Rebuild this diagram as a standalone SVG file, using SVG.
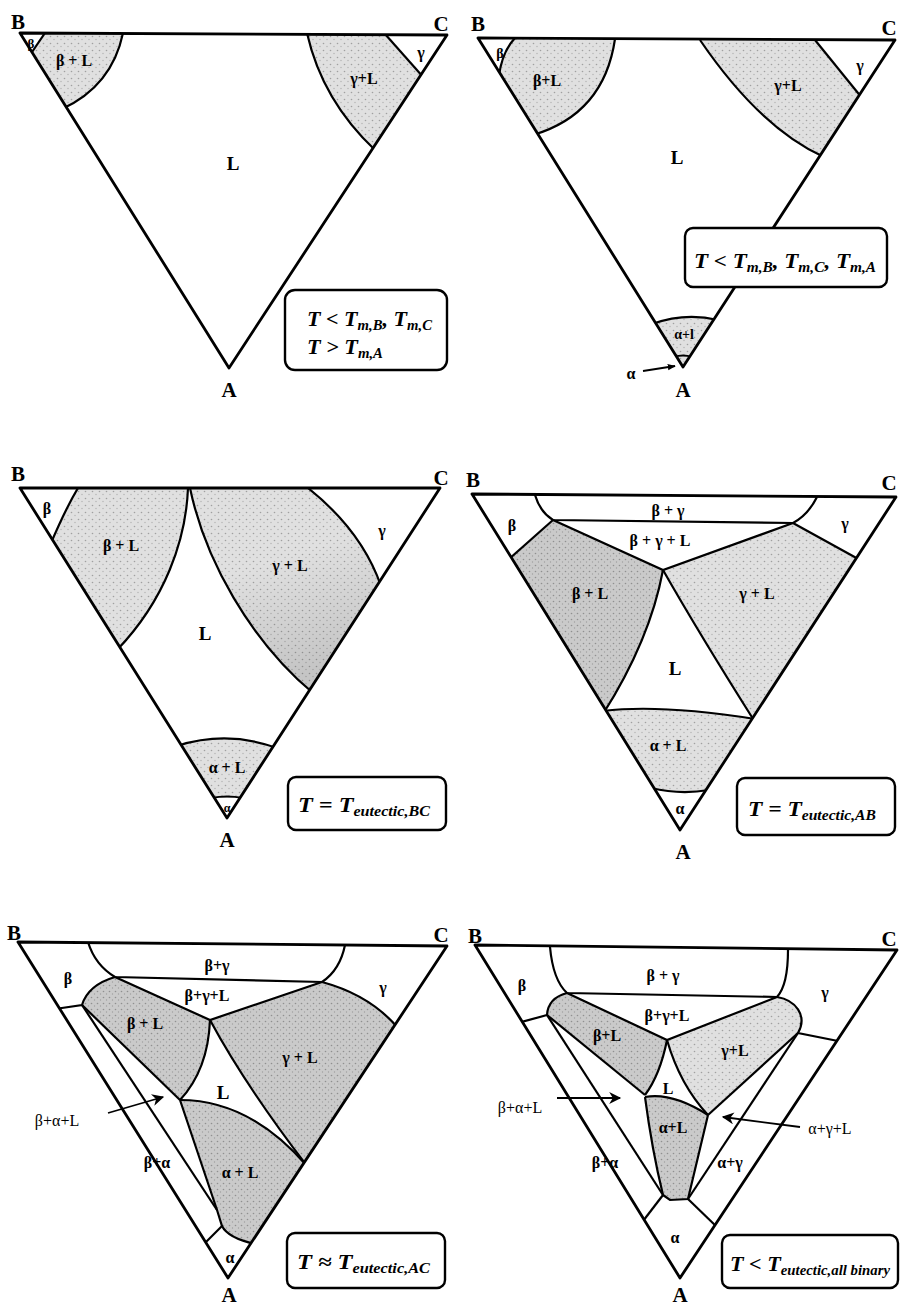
<svg xmlns="http://www.w3.org/2000/svg" width="900" height="1308" viewBox="0 0 900 1308">
<defs>
<pattern id="stip" width="7" height="7" patternUnits="userSpaceOnUse">
<rect width="7" height="7" fill="#e0e0e0"/>
<circle cx="1.5" cy="1.5" r="0.8" fill="#a0a0a0"/>
<circle cx="5" cy="4.5" r="0.7" fill="#b0b0b0"/>
</pattern>
<pattern id="stip2" width="6" height="6" patternUnits="userSpaceOnUse">
<rect width="6" height="6" fill="#cacaca"/>
<circle cx="1.5" cy="1.5" r="0.8" fill="#909090"/>
<circle cx="4.5" cy="4" r="0.7" fill="#a0a0a0"/>
</pattern>
<linearGradient id="g3" x1="0" y1="0" x2="0.3" y2="1">
<stop offset="0.45" stop-color="#000" stop-opacity="0"/>
<stop offset="1" stop-color="#000" stop-opacity="0.12"/>
</linearGradient>
<clipPath id="c1"><path d="M20,33 L447,35 L229,368 Z"/></clipPath>
<clipPath id="c2"><path d="M478,38 L895,40 L683,367 Z"/></clipPath>
<clipPath id="c3"><path d="M20,488 L440,488 L227,818 Z"/></clipPath>
<clipPath id="c4"><path d="M472,494 L896,497 L680,830 Z"/></clipPath>
<clipPath id="c5"><path d="M18,942 L447,946 L228,1278 Z"/></clipPath>
<clipPath id="c6"><path d="M475,945 L897,950 L680,1278 Z"/></clipPath>
<marker id="ah" viewBox="0 0 10 10" refX="9" refY="5" markerWidth="8" markerHeight="8" orient="auto" markerUnits="userSpaceOnUse">
<path d="M0,1 L10,5 L0,9 Z" fill="#000"/>
</marker>
<marker id="ah2" viewBox="0 0 10 10" refX="9" refY="5" markerWidth="15" markerHeight="12" orient="auto" markerUnits="userSpaceOnUse">
<path d="M0,0 L10,5 L0,10 L3,5 Z" fill="#000"/>
</marker>
</defs>
<style>
.tri{fill:none;stroke:#000;stroke-width:2.8;stroke-linejoin:round}
.ln{fill:none;stroke:#000;stroke-width:2.2}
.sh{fill:url(#stip);stroke:none}
.sh2{fill:url(#stip2);stroke:none}
.box{fill:#fff;stroke:#000;stroke-width:2.4}
.lbl{font-family:"Liberation Serif",serif;font-weight:bold;font-size:16px;text-anchor:middle;fill:#000}
.big{font-size:19px}
.vtx{font-family:"Liberation Serif",serif;font-weight:bold;font-size:21px;text-anchor:middle;fill:#000}
.bt{font-family:"Liberation Serif",serif;font-weight:bold;font-style:italic;font-size:21px;fill:#000}
.sb{font-size:14px}
.arr{fill:none;stroke:#000;stroke-width:1.8}
</style>
<rect width="900" height="1308" fill="#fff"/>

<!-- Panel 1 -->
<g id="panel1">
<g clip-path="url(#c1)">
<path class="sh" d="M47,33 L123,33 Q112,86 66,107 L32,52 Z"/>
<path class="sh" d="M307,33 L385,34 L421,75 L372,148 Q322,100 307,33 Z"/>
<path class="ln" d="M47,30 L30,55"/>
<path class="ln" d="M123,33 Q112,86 62,109"/>
<path class="ln" d="M307,33 Q322,100 375,150"/>
<path class="ln" d="M385,34 L424,78"/>
</g>
<path class="tri" d="M20,33 L447,35 L229,368 Z"/>
<text class="vtx" x="18" y="29">B</text>
<text class="vtx" x="441" y="31">C</text>
<text class="vtx" x="229" y="397">A</text>
<text class="lbl" x="31" y="48" style="font-size:13px">β</text>
<text class="lbl" x="74" y="66">β + L</text>
<text class="lbl" x="364" y="84">γ+L</text>
<text class="lbl" x="421" y="58">γ</text>
<text class="lbl big" x="233" y="170">L</text>
<rect class="box" x="285" y="290" width="162" height="80" rx="10"/>
<text class="bt" x="307" y="326" textLength="125" lengthAdjust="spacingAndGlyphs">T &lt; T<tspan class="sb" dy="4">m,B</tspan><tspan dy="-4">, T</tspan><tspan class="sb" dy="4">m,C</tspan></text>
<text class="bt" x="307" y="354" textLength="76" lengthAdjust="spacingAndGlyphs">T &gt; T<tspan class="sb" dy="4">m,A</tspan></text>
</g>

<!-- Panel 2 -->
<g id="panel2">
<g clip-path="url(#c2)">
<path class="sh" d="M515,38 L615,39 Q604,114 537,133 L500,73 Q502,52 515,38 Z"/>
<path class="sh" d="M700,40 L815,40 L859,95 L820,155 Q760,128 700,40 Z"/>
<path class="sh" d="M656,323 Q685,312 714,320 L683,367 Z"/>
<path class="ln" d="M515,38 Q502,52 499,76"/>
<path class="ln" d="M615,39 Q604,114 533,135"/>
<path class="ln" d="M700,40 Q760,128 824,157"/>
<path class="ln" d="M815,40 L862,98"/>
<path class="ln" d="M652,324 Q685,312 718,320"/>
<path class="ln" d="M674,357 Q683,354 692,357"/>
</g>
<path class="tri" d="M478,38 L895,40 L683,367 Z"/>
<text class="vtx" x="478" y="31">B</text>
<text class="vtx" x="889" y="35">C</text>
<text class="vtx" x="683" y="397">A</text>
<text class="lbl" x="500" y="58" style="font-size:14px">β</text>
<text class="lbl" x="547" y="86">β+L</text>
<text class="lbl" x="788" y="91">γ+L</text>
<text class="lbl" x="860" y="71">γ</text>
<text class="lbl big" x="677" y="164">L</text>
<text class="lbl" x="684" y="339" style="font-size:14px">α+l</text>
<text class="lbl" x="631" y="379">α</text>
<rect class="box" x="685" y="228" width="202" height="59" rx="8"/>
<text class="bt" x="694" y="268" textLength="182" lengthAdjust="spacingAndGlyphs">T &lt; T<tspan class="sb" dy="4">m,B</tspan><tspan dy="-4">, T</tspan><tspan class="sb" dy="4">m,C</tspan><tspan dy="-4">, T</tspan><tspan class="sb" dy="4">m,A</tspan></text>
</g>

<!-- Panel 3 -->
<g id="panel3">
<g clip-path="url(#c3)">
<path class="sh" d="M78,488 L188,488 C186,540 165,600 120,647 L53,540 Q66,508 78,488 Z"/>
<path class="sh" d="M190,488 L308,488 Q362,531 379,582 L310,690 C250,640 205,560 190,488 Z"/>
<path d="M190,488 L308,488 Q362,531 379,582 L310,690 C250,640 205,560 190,488 Z" fill="url(#g3)"/>
<path class="sh" d="M181,745 Q227,730 273,747 L240,798 L214,798 Z"/>
<path class="ln" d="M78,488 Q66,508 51,543"/>
<path class="ln" d="M188,488 C186,540 165,600 117,650"/>
<path class="ln" d="M190,488 C205,560 250,640 313,693"/>
<path class="ln" d="M308,488 Q362,531 381,586"/>
<path class="ln" d="M177,746 Q227,730 277,748"/>
<path class="ln" d="M211,798 Q227,795 243,798"/>
</g>
<path class="tri" d="M20,488 L440,488 L227,818 Z"/>
<text class="vtx" x="18" y="481">B</text>
<text class="vtx" x="441" y="485">C</text>
<text class="vtx" x="227" y="847">A</text>
<text class="lbl" x="47" y="514">β</text>
<text class="lbl" x="121" y="551">β + L</text>
<text class="lbl" x="290" y="571">γ + L</text>
<text class="lbl" x="382" y="536">γ</text>
<text class="lbl big" x="205" y="640">L</text>
<text class="lbl" x="227" y="773">α + L</text>
<text class="lbl" x="227" y="812" style="font-size:12px">α</text>
<rect class="box" x="288" y="777" width="158" height="53" rx="8"/>
<text class="bt" x="298" y="812" textLength="132" lengthAdjust="spacingAndGlyphs">T = T<tspan class="sb" dy="4">eutectic,BC</tspan></text>
</g>

<!-- Panel 4 -->
<g id="panel4">
<g clip-path="url(#c4)">
<path class="sh2" d="M511,557 L553,520 L663,570 Q650,640 606,710 Z"/>
<path class="sh" d="M663,570 L793,523 L856,558 L752,718 Q700,635 663,570 Z"/>
<path class="sh" d="M606,710 Q660,704 752,718 L706,790 Q680,795 654,788 Z"/>
<path class="ln" d="M535,495 Q540,512 553,520 L793,523 Q808,515 817,497"/>
<path class="ln" d="M553,520 L508,560"/>
<path class="ln" d="M793,523 L860,560"/>
<path class="ln" d="M553,520 L663,570 L793,523"/>
<path class="ln" d="M663,570 Q650,640 603,714"/>
<path class="ln" d="M663,570 Q700,635 755,722"/>
<path class="ln" d="M603,711 Q660,704 755,719"/>
<path class="ln" d="M651,788 Q680,795 709,790"/>
</g>
<path class="tri" d="M472,494 L896,497 L680,830 Z"/>
<text class="vtx" x="473" y="487">B</text>
<text class="vtx" x="889" y="490">C</text>
<text class="vtx" x="683" y="859">A</text>
<text class="lbl" x="512" y="531">β</text>
<text class="lbl" x="845" y="529">γ</text>
<text class="lbl" x="668" y="516">β + γ</text>
<text class="lbl" x="660" y="546">β + γ + L</text>
<text class="lbl" x="590" y="599">β + L</text>
<text class="lbl" x="757" y="599">γ + L</text>
<text class="lbl big" x="675" y="675">L</text>
<text class="lbl" x="668" y="751">α + L</text>
<text class="lbl" x="680" y="814">α</text>
<rect class="box" x="737" y="778" width="158" height="57" rx="8"/>
<text class="bt" x="748" y="816" textLength="128" lengthAdjust="spacingAndGlyphs">T = T<tspan class="sb" dy="4">eutectic,AB</tspan></text>
</g>

<!-- Panel 5 -->
<g id="panel5">
<g clip-path="url(#c5)">
<path class="sh2" d="M82,1005 Q88,985 115,977 L210,1020 Q208,1070 180,1100 Z"/>
<path class="sh2" d="M210,1020 L322,982 Q370,995 395,1025 L304,1162 Q245,1085 210,1020 Z"/>
<path class="sh2" d="M180,1100 Q250,1100 304,1162 L251,1243 Q228,1238 222,1226 L217,1210 Z"/>
<path class="ln" d="M88,942 Q95,965 115,977 L322,982 Q340,970 345,945"/>
<path class="ln" d="M115,977 L210,1020 L322,982"/>
<path class="ln" d="M115,977 Q88,985 82,1005 L55,1009"/>
<path class="ln" d="M322,982 Q370,995 398,1028"/>
<path class="ln" d="M82,1005 L180,1100"/>
<path class="ln" d="M82,1005 L217,1210"/>
<path class="ln" d="M210,1020 Q208,1070 180,1100"/>
<path class="ln" d="M210,1020 Q245,1085 307,1166"/>
<path class="ln" d="M180,1100 Q250,1100 307,1166"/>
<path class="ln" d="M180,1100 L217,1210 L222,1226 Q228,1238 255,1244"/>
<path class="ln" d="M202,1246 L222,1226"/>
</g>
<path class="tri" d="M18,942 L447,946 L228,1278 Z"/>
<text class="vtx" x="14" y="940">B</text>
<text class="vtx" x="441" y="942">C</text>
<text class="vtx" x="229" y="1302">A</text>
<text class="lbl" x="68" y="984">β</text>
<text class="lbl" x="383" y="993">γ</text>
<text class="lbl" x="217" y="971">β+γ</text>
<text class="lbl" x="207" y="1001">β+γ+L</text>
<text class="lbl" x="145" y="1029">β + L</text>
<text class="lbl" x="300" y="1063">γ + L</text>
<text class="lbl big" x="223" y="1099">L</text>
<text class="lbl" x="240" y="1178">α + L</text>
<text class="lbl" x="157" y="1168">β+α</text>
<text class="lbl" x="230" y="1263">α</text>
<text class="lbl" x="57" y="1126" style="font-weight:normal">β+α+L</text>
<rect class="box" x="287" y="1233" width="158" height="55" rx="8"/>
<text class="bt" x="297" y="1269" textLength="133" lengthAdjust="spacingAndGlyphs">T ≈ T<tspan class="sb" dy="4">eutectic,AC</tspan></text>
</g>

<!-- Panel 6 -->
<g id="panel6">
<g clip-path="url(#c6)">
<path class="sh2" d="M567,993 L667,1040 Q660,1075 645,1095 L547,1015 Q548,998 567,993 Z"/>
<path class="sh" d="M667,1040 L777,997 C795,1000 808,1015 798,1033 L708,1115 Q680,1085 667,1040 Z"/>
<path class="sh2" d="M645,1097 Q672,1092 708,1115 L688,1199 L670,1200 L663,1195 Q652,1150 645,1097 Z"/>
<path class="ln" d="M550,947 Q553,980 567,993 L777,997 Q788,985 788,950"/>
<path class="ln" d="M567,993 L667,1040 L777,997"/>
<path class="ln" d="M567,993 Q548,998 547,1015 L518,1023"/>
<path class="ln" d="M777,997 C795,1000 808,1015 798,1033 L838,1041"/>
<path class="ln" d="M547,1015 L645,1095"/>
<path class="ln" d="M798,1033 L708,1115"/>
<path class="ln" d="M667,1040 Q660,1075 645,1095"/>
<path class="ln" d="M667,1040 Q680,1085 708,1115"/>
<path class="ln" d="M645,1097 Q672,1092 708,1115"/>
<path class="ln" d="M645,1097 Q652,1150 663,1195 L670,1200 L688,1199 L708,1115"/>
<path class="ln" d="M547,1015 L663,1195"/>
<path class="ln" d="M798,1033 L688,1199"/>
<path class="ln" d="M640,1225 L663,1195"/>
<path class="ln" d="M688,1199 L719,1229"/>
</g>
<path class="tri" d="M475,945 L897,950 L680,1278 Z"/>
<text class="vtx" x="475" y="943">B</text>
<text class="vtx" x="889" y="946">C</text>
<text class="vtx" x="680" y="1302">A</text>
<text class="lbl" x="522" y="991">β</text>
<text class="lbl" x="825" y="998">γ</text>
<text class="lbl" x="663" y="981">β + γ</text>
<text class="lbl" x="667" y="1021">β+γ+L</text>
<text class="lbl" x="607" y="1041">β+L</text>
<text class="lbl" x="735" y="1056">γ+L</text>
<text class="lbl" x="668" y="1094">L</text>
<text class="lbl" x="673" y="1133">α+L</text>
<text class="lbl" x="605" y="1168">β+α</text>
<text class="lbl" x="730" y="1168">α+γ</text>
<text class="lbl" x="675" y="1243">α</text>
<text class="lbl" x="520" y="1113" style="font-weight:normal">β+α+L</text>
<text class="lbl" x="830" y="1134" style="font-weight:normal">α+γ+L</text>
<rect class="box" x="722" y="1235" width="176" height="53" rx="8"/>
<text class="bt" x="730" y="1271" textLength="160" lengthAdjust="spacingAndGlyphs">T &lt; T<tspan class="sb" dy="4">eutectic,all binary</tspan></text>
</g>

<g id="connectors">
<path class="arr" d="M643,371 L675,366" marker-end="url(#ah)"/>
<path class="arr" d="M108,1113 L163,1097" marker-end="url(#ah2)"/>
<path class="arr" d="M557,1098 L620,1098" marker-end="url(#ah2)"/>
<path class="arr" d="M800,1127 L723,1117" marker-end="url(#ah2)"/>
</g>
</svg>
